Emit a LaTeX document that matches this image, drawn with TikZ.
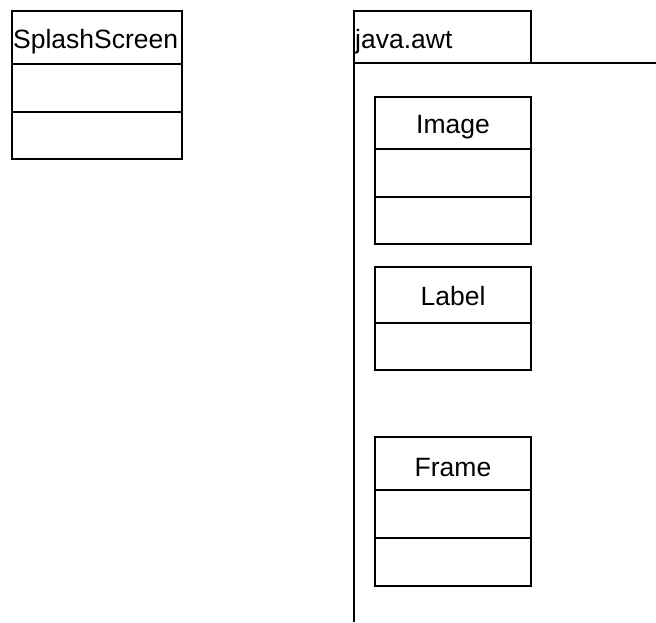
\documentclass[tikz,border=0pt]{standalone}
\usepackage{fontspec}
\setmainfont{Liberation Sans}
\begin{document}
\begin{tikzpicture}[x=1pt,y=-1pt,
  umlfont/.style={font=\fontsize{26.5}{32}\selectfont,inner sep=0pt},
  comp/.style={draw=black,line width=2pt,anchor=north west,inner sep=0pt,outer sep=0pt,fill=white},
  pkgline/.style={draw=black,line width=2pt}]
\useasboundingbox (0,0) rectangle (656,622);
% SplashScreen
\node[comp,minimum width=170pt,minimum height=53pt] (sshead) at (12,11) {};
\node[umlfont,anchor=base west] (sstext) at (13,48) {SplashScreen};
\node[comp,minimum width=170pt,minimum height=48pt] (ssattr) at (12,64) {};
\node[comp,minimum width=170pt,minimum height=47pt] (ssops) at (12,112) {};
% package java.awt
\node[comp,minimum width=177pt,minimum height=52pt] (pkgtab) at (354,11) {};
\node[umlfont,anchor=base west] (pkgtext) at (355,48) {java.awt};
\coordinate (pkgtr) at (656,63);
\coordinate (pkgbl) at (354,622);
\draw[pkgline] (pkgtr) -- (pkgtab.south west) -- (pkgbl);
% Image
\node[comp,minimum width=156pt,minimum height=52pt] (imghead) at (375,97) {};
\node[umlfont,anchor=base] (imgtext) at (453,133) {Image};
\node[comp,minimum width=156pt,minimum height=48pt] (imgattr) at (375,149) {};
\node[comp,minimum width=156pt,minimum height=47pt] (imgops) at (375,197) {};
% Label
\node[comp,minimum width=156pt,minimum height=56pt] (lblhead) at (375,267) {};
\node[umlfont,anchor=base] (lbltext) at (453,305) {Label};
\node[comp,minimum width=156pt,minimum height=47pt] (lblattr) at (375,323) {};
% Frame
\node[comp,minimum width=156pt,minimum height=53pt] (frmhead) at (375,437) {};
\node[umlfont,anchor=base] (frmtext) at (453,476) {Frame};
\node[comp,minimum width=156pt,minimum height=48pt] (frmattr) at (375,490) {};
\node[comp,minimum width=156pt,minimum height=48pt] (frmops) at (375,538) {};
\end{tikzpicture}
\end{document}
